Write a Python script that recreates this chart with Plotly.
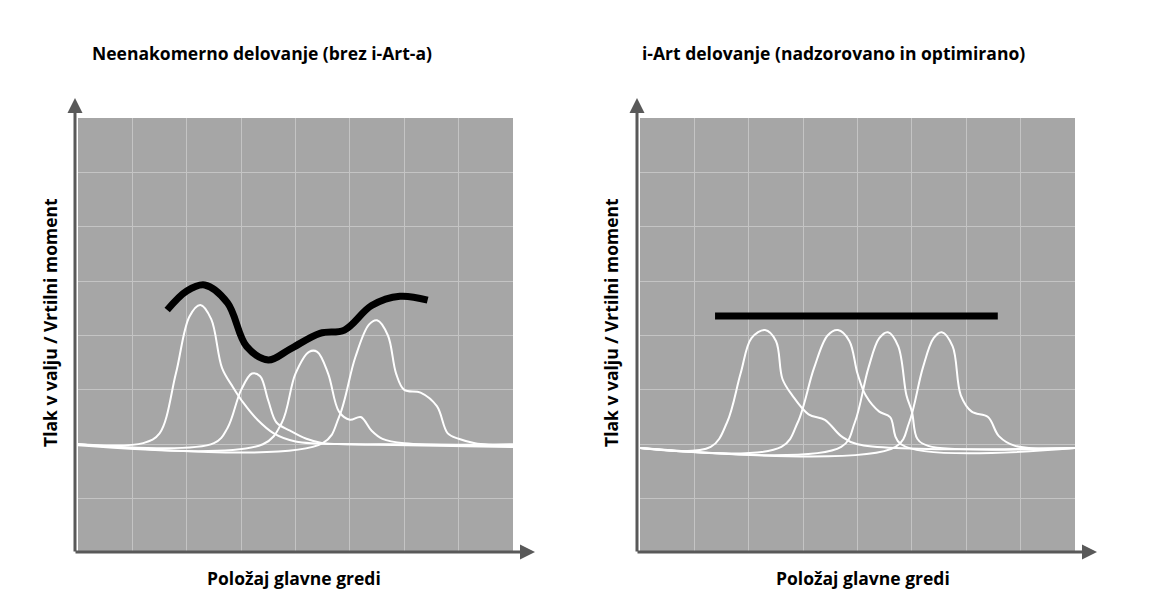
import plotly.graph_objects as go
from plotly.subplots import make_subplots

# left panel: uneven operation
left_thick_x = [1.64, 2.0, 2.33, 2.75, 3.1, 3.5, 3.9, 4.45, 4.9, 5.4, 5.92, 6.43]
left_thick_y = [4.47, 4.82, 4.93, 4.6, 3.8, 3.55, 3.75, 4.04, 4.1, 4.55, 4.72, 4.65]

left_curves = [
    ([0, 1.2, 1.5, 1.8, 2.05, 2.25, 2.45, 2.65, 2.85, 3.05, 3.3, 3.6, 4.0, 5, 6, 8],
     [2.0, 2.02, 2.2, 3.3, 4.35, 4.56, 4.3, 3.4, 3.05, 2.75, 2.45, 2.2, 2.05, 2.0, 2.0, 1.97]),
    ([0, 2.5, 2.75, 3.0, 3.2, 3.35, 3.5, 3.65, 3.9, 4.2, 4.5, 5, 8],
     [2.0, 2.02, 2.3, 3.0, 3.3, 3.25, 2.8, 2.4, 2.25, 2.1, 2.02, 2.0, 1.95]),
    ([0, 3.4, 3.75, 4.0, 4.25, 4.4, 4.6, 4.8, 5.0, 5.2, 5.4, 5.6, 6, 8],
     [1.98, 2.0, 2.4, 3.3, 3.7, 3.7, 3.3, 2.6, 2.45, 2.5, 2.25, 2.1, 2.02, 2.0]),
    ([0, 4.5, 4.8, 5.1, 5.35, 5.5, 5.7, 5.85, 6.0, 6.3, 6.6, 6.8, 7.0, 7.3, 8],
     [2.0, 2.02, 2.5, 3.6, 4.2, 4.28, 4.0, 3.3, 3.0, 2.95, 2.7, 2.2, 2.1, 2.02, 1.97]),
]

# right panel: i-Art operation
right_thick_x = [1.38, 6.58]
right_thick_y = [4.36, 4.36]

right_curves = [
    ([0, 1.3, 1.6, 1.85, 2.05, 2.3, 2.5, 2.62, 2.8, 3.1, 3.4, 3.7, 4.0, 8],
     [1.93, 1.95, 2.4, 3.3, 3.95, 4.1, 3.9, 3.2, 2.9, 2.55, 2.45, 2.15, 2.0, 1.93]),
    ([0, 2.6, 2.9, 3.2, 3.45, 3.64, 3.85, 4.0, 4.15, 4.4, 4.6, 4.8, 8],
     [1.93, 1.95, 2.4, 3.4, 4.0, 4.1, 3.9, 3.3, 2.9, 2.6, 2.5, 2.0, 1.93]),
    ([0, 3.7, 3.95, 4.2, 4.4, 4.56, 4.75, 4.9, 5.0, 5.1, 5.3, 8],
     [1.93, 1.95, 2.4, 3.4, 3.95, 4.06, 3.8, 2.9, 2.6, 2.1, 1.97, 1.93]),
    ([0, 4.7, 4.95, 5.2, 5.4, 5.55, 5.75, 5.9, 6.1, 6.4, 6.6, 6.9, 8],
     [1.93, 1.95, 2.4, 3.4, 3.95, 4.06, 3.8, 2.9, 2.6, 2.5, 2.15, 1.97, 1.93]),
]

titles = ["Neenakomerno delovanje (brez i-Art-a)", "i-Art delovanje (nadzorovano in optimirano)"]
x_title = "Položaj glavne gredi"
y_title = "Tlak v valju / Vrtilni moment"

FONT = "Open Sans"
FS = 17.5
W, H = 1172, 600
OFF = 8  # page margin of the browser


def px(x):
    return (x - OFF) / W


def py(y):
    return (H - (y - OFF)) / H


fig = make_subplots(rows=1, cols=2)

for col, curves, tx, ty in [(1, left_curves, left_thick_x, left_thick_y),
                            (2, right_curves, right_thick_x, right_thick_y)]:
    for i, (cx, cy) in enumerate(curves):
        fig.add_trace(go.Scatter(x=cx, y=cy, mode="lines", line_shape="spline",
                                 line=dict(color="white", width=2), hoverinfo="skip"),
                      row=1, col=col)
    fig.add_trace(go.Scatter(x=tx, y=ty, mode="lines", line_shape="spline",
                             line=dict(color="black", width=7)),
                  row=1, col=col)

fig.update_xaxes(range=[0, 8], dtick=1, showticklabels=False, showgrid=True,
                 gridcolor="#c4c4c4", gridwidth=1, zeroline=False, showline=False)
fig.update_yaxes(range=[0, 8], dtick=1, showticklabels=False, showgrid=True,
                 gridcolor="#c4c4c4", gridwidth=1, zeroline=False, showline=False)
fig.update_layout(
    xaxis=dict(domain=[px(78), px(513)]),
    xaxis2=dict(domain=[px(640), px(1075)]),
    yaxis=dict(domain=[py(553), py(118)]),
    yaxis2=dict(domain=[py(553), py(118)]),
    plot_bgcolor="#a6a6a6",
    paper_bgcolor="white",
    width=W, height=H,
    margin=dict(l=0, r=0, t=0, b=0),
    showlegend=False,
)

anns = []
for x0 in [75, 637]:
    # axis arrows
    anns.append(dict(xref="paper", yref="paper", x=px(x0), y=py(98),
                     ax=0, ay=455, showarrow=True, arrowhead=2, arrowsize=1,
                     arrowwidth=3, arrowcolor="#595959", text=""))
    anns.append(dict(xref="paper", yref="paper", x=px(x0 + 460), y=py(552),
                     ax=-461, ay=0, showarrow=True, arrowhead=2, arrowsize=1,
                     arrowwidth=3, arrowcolor="#595959", text=""))
for i, (tx, cx) in enumerate([(90, 294), (640, 863)]):
    anns.append(dict(xref="paper", yref="paper", x=px(tx), y=py(53),
                     xanchor="left", yanchor="middle", showarrow=False,
                     text="<b>" + titles[i] + "</b>",
                     font=dict(family=FONT, size=FS, color="black")))
    anns.append(dict(xref="paper", yref="paper", x=px(cx), y=py(578),
                     xanchor="center", yanchor="middle", showarrow=False,
                     text="<b>" + x_title + "</b>",
                     font=dict(family=FONT, size=FS, color="black")))
for xx in [50, 611]:
    anns.append(dict(xref="paper", yref="paper", x=px(xx), y=py(323),
                     xanchor="center", yanchor="middle", showarrow=False, textangle=-90,
                     text="<b>" + y_title + "</b>",
                     font=dict(family=FONT, size=FS, color="black")))
fig.update_layout(annotations=anns)

fig.write_html("out.html")
